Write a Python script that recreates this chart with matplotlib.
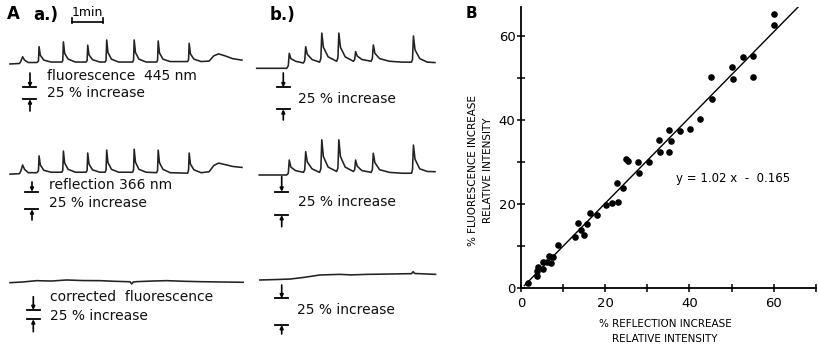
import matplotlib
matplotlib.use("Agg")
import matplotlib.pyplot as plt
from matplotlib.ticker import MultipleLocator
import numpy as np

# ---------------- DATA ----------------
# Panel A traces: time (min) and signal (% increase relative to baseline)
a1_t = [0.00, 0.30, 0.34, 0.40, 0.46, 0.58, 0.85, 0.90, 0.92, 0.96, 1.07, 1.30,
        1.64, 1.67, 1.69, 1.73, 1.84, 2.07, 2.41, 2.44, 2.46, 2.50, 2.61, 2.84,
        3.01, 3.04, 3.06, 3.10, 3.21, 3.44, 3.88, 3.91, 3.93, 3.97, 4.08, 4.31,
        4.64, 4.67, 4.69, 4.73, 4.84, 5.07, 5.62, 5.65, 5.67, 5.71, 5.82, 6.05,
        6.30, 6.45, 6.60, 6.80, 7.05, 7.34]
a1_fluor = [-2, -1, 3, 13, 6, 1, 1, 4, 34, 16, 6, 2,
            2, 5, 44, 20, 8, 2, 2, 5, 37, 17, 7, 2,
            2, 6, 48, 22, 8, 2, 2, 6, 48, 22, 8, 2,
            2, 6, 46, 21, 8, 3, 3, 7, 41, 19, 8, 3,
            4, 15, 19, 15, 9, 6]
a2_refl = [-3, -2, 3, 16, 7, 0, 0, 4, 35, 16, 5, 1,
           1, 5, 45, 20, 7, 1, 1, 5, 41, 18, 6, 1,
           1, 6, 47, 21, 7, 1, 1, 6, 49, 22, 7, 1,
           0, 5, 47, 21, 7, 0, -1, 5, 41, 18, 6, 0,
           2, 15, 20, 17, 13, 11]
a3_t = [0.00, 0.40, 0.84, 1.30, 1.79, 2.30, 2.85, 3.30, 3.69, 3.80, 3.85, 3.90,
        4.01, 4.50, 4.96, 5.50, 6.01, 6.70, 7.38]
a3_corr = [-1.4, 0.0, 2.8, 2.0, 4.2, 3.0, 2.8, 1.5, 0.7, 0.5, -4.2, 0.0,
           0.7, 2.0, 2.8, 1.5, 0.7, 0.0, -0.6]

b_t = [0.00, 0.95, 1.00, 1.03, 1.08, 1.23, 1.48, 1.52, 1.55, 1.60, 1.75, 1.99,
       2.03, 2.06, 2.11, 2.26, 2.53, 2.57, 2.60, 2.65, 2.80, 3.06, 3.10, 3.13,
       3.18, 3.33, 3.62, 3.66, 3.69, 3.74, 3.89, 4.20, 4.60, 4.90, 4.93, 4.96,
       5.01, 5.16, 5.40, 5.64]
b1_fluor = [0, 0, 3, 17, 11, 8, 6, 9, 24.5, 16, 10, 7,
            11, 40, 24, 13, 8, 12, 40, 24, 13, 8, 10, 19,
            14, 10, 8, 11, 26.5, 17, 11, 8, 7, 7, 10, 36.7,
            21, 11, 7, 6.5]
b2_t = [0.08] + b_t[1:]
b2_refl = [0, 0, 2, 17, 9, 5, 3, 6, 26.5, 15, 7, 3,
           7, 40, 21, 9, 4, 8, 40, 21, 9, 4, 6, 17,
           10, 5, 3, 6, 24.7, 14, 6, 3, 2, 2, 6, 34,
           18, 7, 4, 3.75]
b3_t = [0.10, 0.60, 1.06, 1.50, 2.00, 2.63, 3.00, 3.48, 4.20, 4.90, 4.95, 5.00, 5.66]
b3_corr = [0.0, 0.5, 1.1, 3.0, 5.7, 6.4, 5.8, 6.4, 6.8, 7.2, 9.5, 7.4, 6.4]

# Panel B scatter
refl_pct = [1.6, 3.8, 3.7, 4.1, 5.2, 5.3, 6.1, 6.7, 7.1, 7.7, 8.7, 12.8, 13.6, 14.2,
            15.0, 15.6, 16.4, 18.0, 20.1, 21.5, 23.1, 22.7, 24.2, 28.1, 25.0, 25.3,
            27.7, 30.5, 32.8, 32.9, 35.2, 35.6, 35.2, 37.8, 40.1, 42.6, 45.1, 45.4,
            50.0, 50.4, 52.7, 55.2, 55.2, 60.2, 60.1]
fluor_pct = [1.2, 3.0, 4.2, 5.0, 4.5, 6.3, 6.3, 7.7, 6.1, 7.4, 10.3, 12.3, 15.5, 13.9,
             12.7, 15.2, 17.9, 17.5, 19.8, 20.2, 20.5, 25.1, 23.8, 27.5, 30.8, 30.3,
             30.1, 30.0, 35.3, 32.4, 32.5, 35.1, 37.7, 37.5, 37.9, 40.2, 50.2, 45.1,
             52.8, 49.9, 55.1, 55.3, 50.2, 65.3, 62.7]
fit_slope = 1.02
fit_intercept = -0.165
fit_x_range = [0.8, 66.3]
b_ticks = [0, 20, 40, 60]

# ---------------- FIGURE ----------------
W, H = 820, 348
fig = plt.figure(figsize=(W / 100, H / 100), dpi=100)
fig.patch.set_facecolor("white")

PX_PER_MIN = 31.6
TRACE_COLOR = "#222222"

def trace_axes(x0_px, base_py, px_per_pct, t_span):
    half = 60
    h_px = 2 * half * px_per_pct
    bottom_py = base_py + half * px_per_pct
    ax = fig.add_axes([x0_px / W, (H - bottom_py) / H, t_span * PX_PER_MIN / W, h_px / H])
    ax.set_xlim(0, t_span)
    ax.set_ylim(-half, half)
    ax.axis("off")
    return ax

cells = [
    (10, 63.0, 0.48, 7.6, a1_t, a1_fluor),
    (10, 172.7, 0.48, 7.6, a1_t, a2_refl),
    (10, 282.0, 0.48, 7.6, a3_t, a3_corr),
    (256.7, 68.3, 0.88, 5.8, b_t, b1_fluor),
    (256.7, 175.0, 0.88, 5.8, b2_t, b2_refl),
    (256.7, 280.0, 0.88, 5.8, b3_t, b3_corr),
]
for x0, base, ppp, span, tt, yy in cells:
    ax = trace_axes(x0, base, ppp, span)
    ax.plot(tt, yy, color=TRACE_COLOR, lw=1.15, clip_on=False)

# overlay for panel A annotations (pixel layout coordinates)
ov = fig.add_axes([0, 0, 1, 1])
ov.set_xlim(0, W)
ov.set_ylim(H, 0)
ov.axis("off")
ov.patch.set_alpha(0)

ov.text(7, 14, "A", fontsize=12, fontweight="bold", va="center", ha="left")
ov.text(33, 15, "a.)", fontsize=12, fontweight="bold", va="center", ha="left")
ov.text(270, 15, "b.)", fontsize=12, fontweight="bold", va="center", ha="left")
ov.text(87.5, 12, "1min", fontsize=9, va="center", ha="center")
ov.plot([72, 103], [21.7, 21.7], color="k", lw=1.2)
ov.plot([72, 72], [18, 23], color="k", lw=1.2)
ov.plot([103, 103], [18, 23], color="k", lw=1.2)

fs = 10
labels = [
    (46.7, 75.7, "fluorescence  445 nm"), (46.7, 93.3, "25 % increase"),
    (49.3, 185.0, "reflection 366 nm"), (49.3, 203.3, "25 % increase"),
    (50.0, 296.7, "corrected  fluorescence"), (50.0, 316.0, "25 % increase"),
    (298.3, 99.0, "25 % increase"), (298.3, 201.7, "25 % increase"),
    (296.7, 310.0, "25 % increase"),
]
for x, y, s in labels:
    ov.text(x, y, s, fontsize=fs, va="center", ha="left", color="#111111")

# scale markers: (x, arrow_top, bar_top, bar_bottom, arrow_bottom)
markers = [
    (30.0, 73.0, 87.3, 99.3, 111.0),
    (32.0, 182.0, 191.7, 209.3, 220.0),
    (33.3, 296.7, 310.0, 319.3, 331.7),
    (283.3, 73.0, 87.3, 109.3, 120.0),
    (281.7, 176.7, 191.7, 215.0, 226.7),
    (281.7, 285.0, 298.3, 325.0, 334.0),
]
for x, at, bt, bb, ab in markers:
    ov.plot([x - 6.5, x + 6.5], [bt, bt], color="k", lw=1.3)
    ov.plot([x - 6.5, x + 6.5], [bb, bb], color="k", lw=1.3)
    ov.annotate("", xy=(x, bt), xytext=(x, at),
                arrowprops=dict(arrowstyle="-|>", color="k", lw=1.2, mutation_scale=5,
                                shrinkA=0, shrinkB=0))
    ov.annotate("", xy=(x, bb), xytext=(x, ab),
                arrowprops=dict(arrowstyle="-|>", color="k", lw=1.2, mutation_scale=5,
                                shrinkA=0, shrinkB=0))

# ---------------- PANEL B ----------------
x0_px, x1_px = 521.0, 815.7
y0_py, y1_py = 288.3, 6.9
axb = fig.add_axes([x0_px / W, (H - y0_py) / H, (x1_px - x0_px) / W, (y0_py - y1_py) / H])
axb.set_xlim(0, 70)
axb.set_ylim(0, 67)
axb.scatter(refl_pct, fluor_pct, s=14, color="k", zorder=3, clip_on=False)
fx = np.array(fit_x_range)
axb.plot(fx, fit_slope * fx + fit_intercept, color="k", lw=1.0)
for sp in ["top", "right"]:
    axb.spines[sp].set_visible(False)
for sp in ["left", "bottom"]:
    axb.spines[sp].set_linewidth(1.3)
axb.set_xticks(b_ticks)
axb.set_yticks(b_ticks)
axb.xaxis.set_minor_locator(MultipleLocator(10))
axb.yaxis.set_minor_locator(MultipleLocator(10))
axb.tick_params(which="both", direction="inout", length=6, width=1.1)
axb.tick_params(axis="x", labelsize=9.5, pad=3)
axb.tick_params(axis="y", labelsize=9.5, pad=1)
axb.patch.set_alpha(0)

axb.text(34.2, -7.4, "% REFLECTION INCREASE\nRELATIVE INTENSITY", fontsize=7.5,
         ha="center", va="top", linespacing=1.6)
axb.text(-0.095, 0.42, "% FLUORESCENCE INCREASE\nRELATIVE INTENSITY", fontsize=7.5,
         ha="right", va="center", rotation=90, linespacing=1.6,
         transform=axb.transAxes, multialignment="center")
axb.text(50.3, 26.2, "y = 1.02 x  -  0.165", fontsize=8.5, ha="center", va="center")
ov.text(466, 13, "B", fontsize=11, fontweight="bold", va="center", ha="left")

fig.savefig("out.png", dpi=100, facecolor="white")
